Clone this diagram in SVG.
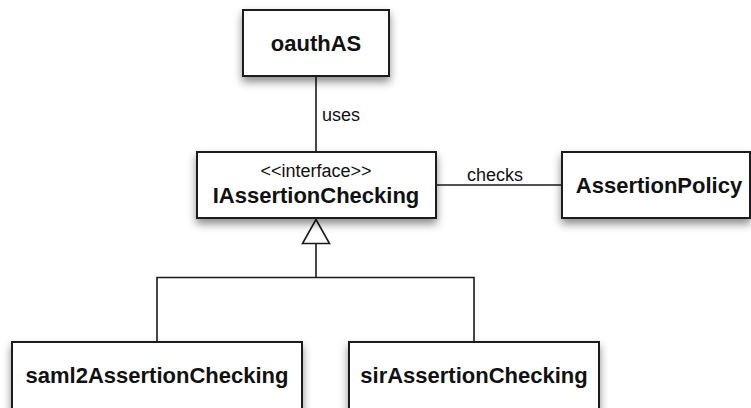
<svg xmlns="http://www.w3.org/2000/svg" width="751" height="408" viewBox="0 0 751 408">
<defs>
<filter id="sh" x="-20%" y="-20%" width="140%" height="150%">
<feDropShadow dx="0" dy="5" stdDeviation="4" flood-color="#000" flood-opacity="0.45"/>
</filter>
</defs>
<style>
.box{fill:#fff;stroke:#1a1a1a;stroke-width:2;filter:url(#sh)}
.t{font-family:"Liberation Sans",Arial,sans-serif;font-weight:bold;font-size:22px;fill:#111;text-anchor:middle}
.l{font-family:"Liberation Sans",Arial,sans-serif;font-size:18px;fill:#111}
.c{fill:none;stroke:#1a1a1a;stroke-width:1.6}
</style>
<rect width="751" height="408" fill="#fff"/>
<g id="connectors">
<line class="c" x1="316" y1="76" x2="316" y2="152"/>
<text class="l" x="322" y="121">uses</text>
<line class="c" x1="436" y1="185" x2="562" y2="185"/>
<text class="l" x="467" y="181">checks</text>
<polyline class="c" points="157,342 157,277.5 474,277.5 474,342"/>
<line class="c" x1="316" y1="243.5" x2="316" y2="277.5"/>
<polygon class="c" fill="#fff" points="316,219.5 302.5,243.5 329.5,243.5"/>
</g>
<g id="oauthAS">
<rect class="box" x="243" y="10" width="146" height="66"/>
<text class="t" x="316" y="51">oauthAS</text>
</g>
<g id="IAssertionChecking">
<rect class="box" x="197" y="152" width="239" height="66"/>
<text class="l" x="316" y="177" text-anchor="middle">&lt;&lt;interface&gt;&gt;</text>
<text class="t" x="316" y="203">IAssertionChecking</text>
</g>
<g id="AssertionPolicy">
<rect class="box" x="562" y="152" width="188" height="66"/>
<text class="t" x="659" y="193">AssertionPolicy</text>
</g>
<g id="saml2AssertionChecking">
<rect class="box" x="12" y="342" width="290" height="80"/>
<text class="t" x="157" y="383">saml2AssertionChecking</text>
</g>
<g id="sirAssertionChecking">
<rect class="box" x="349" y="342" width="250" height="80"/>
<text class="t" x="474" y="383">sirAssertionChecking</text>
</g>
</svg>
